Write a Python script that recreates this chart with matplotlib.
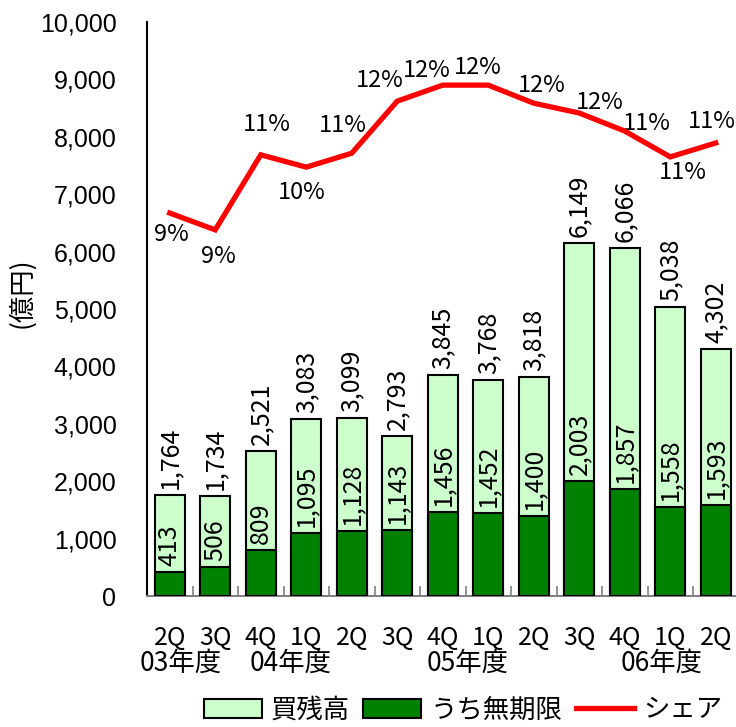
import matplotlib
matplotlib.use('Agg')
import matplotlib.pyplot as plt
from matplotlib.patches import Patch
from matplotlib.lines import Line2D

# data
quarters = ['2Q', '3Q', '4Q', '1Q', '2Q', '3Q', '4Q', '1Q', '2Q', '3Q', '4Q', '1Q', '2Q']
years = ['03年度', '04年度', '05年度', '06年度']
year_pos = [0.25, 2.65, 6.55, 10.8]
zandaka = [1764, 1734, 2521, 3083, 3099, 2793, 3845, 3768, 3818, 6149, 6066, 5038, 4302]
mukigen = [413, 506, 809, 1095, 1128, 1143, 1456, 1452, 1400, 2003, 1857, 1558, 1593]
share = [9.34, 8.93, 10.76, 10.46, 10.80, 12.07, 12.46, 12.46, 12.02, 11.78, 11.34, 10.71, 11.05]

# label offsets for the share line (pixels)
share_off = [(2, -21), (3, -27), (6, 30), (-4, -25), (-9, 28), (-18, 21), (-16, 15),
             (-11, 18), (8, 18), (21, 11), (22, 8), (13, -16), (-4, 21)]

jp = 'Noto Sans CJK JP'
plt.rcParams['font.family'] = [jp, 'DejaVu Sans']

fig = plt.figure(figsize=(7.36, 7.27), dpi=100)
ax = fig.add_axes([147 / 736, 1 - 596 / 727, 591.5 / 736, 574 / 727])

x = list(range(len(quarters)))
ax.bar(x, zandaka, width=0.66, color='#CCFFCC', edgecolor='black', linewidth=1.5, zorder=2)
ax.bar(x, mukigen, width=0.66, color='#008000', edgecolor='black', linewidth=1.5, zorder=3)

for i in x:
    ax.annotate(f'{zandaka[i]:,}', (i, zandaka[i]), xytext=(0, 6), textcoords='offset pixels',
                rotation=90, ha='center', va='bottom', fontsize=18, zorder=5)
    ax.annotate(f'{mukigen[i]:,}', (i, mukigen[i]), xytext=(0, 6), textcoords='offset pixels',
                rotation=90, ha='center', va='bottom', fontsize=18, zorder=5)

ax.set_xlim(-0.5, len(quarters) - 0.5)
ax.set_ylim(0, 10000)
ax.set_yticks(range(0, 10001, 1000))
ax.set_yticklabels([f'{v:,}' for v in range(0, 10001, 1000)], family='Liberation Sans', fontsize=18)
ax.tick_params(axis='y', length=0, pad=22)
ax.set_xticks([i + 0.5 for i in x[:-1]])
ax.set_xticklabels([])
ax.tick_params(axis='x', direction='in', length=7, color='#808080', width=1.2)
for i, q in enumerate(quarters):
    ax.text(i, -0.073, q, transform=ax.get_xaxis_transform(), ha='center', va='center', fontsize=18)
for p, yl in zip(year_pos, years):
    ax.text(p, -0.117, yl, transform=ax.get_xaxis_transform(), ha='center', va='center', fontsize=19)

for s in ['top', 'right']:
    ax.spines[s].set_visible(False)
ax.spines['left'].set_linewidth(1.5)
ax.spines['bottom'].set_color('#808080')
ax.spines['bottom'].set_linewidth(1.5)

fig.text(22 / 736, 1 - 293 / 727, '(億円)', rotation=90, ha='center', va='center', fontsize=19)

ax2 = ax.twinx()
ax2.set_ylim(0, 14)
ax2.axis('off')
ax2.plot(x, share, color='#FF0000', linewidth=3.8, solid_joinstyle='miter', zorder=4)
for i in x:
    ax2.annotate(f'{share[i]:.0f}%', (i, share[i]), xytext=share_off[i], textcoords='offset pixels',
                 ha='center', va='center', fontsize=17)

handles = [Patch(facecolor='#CCFFCC', edgecolor='black', linewidth=1.5),
           Patch(facecolor='#008000', edgecolor='black', linewidth=1.5),
           Line2D([0], [0], color='#FF0000', linewidth=3.8)]
fig.legend(handles, ['買残高', 'うち無期限', 'シェア'], loc='center', ncol=3,
           bbox_to_anchor=(463 / 736, 1 - 710 / 727), frameon=False, fontsize=19,
           handlelength=2.2, handleheight=0.7, handletextpad=0.35, columnspacing=0.5,
           borderpad=0.2)

fig.savefig('out.png', dpi=100)
